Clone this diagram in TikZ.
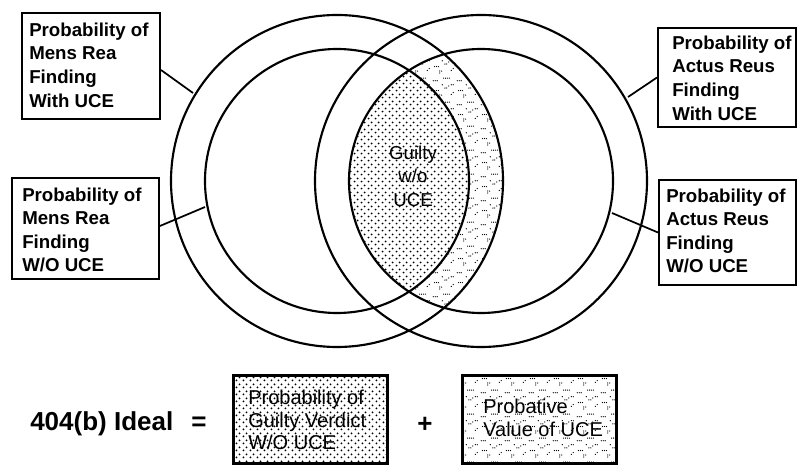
\documentclass[tikz,border=0pt]{standalone}
\usepackage{fontspec}
\setmainfont{Liberation Sans}
\usetikzlibrary{patterns.meta}

% close, even stipple for the "guilty" areas
\tikzdeclarepattern{
  name=densedots,
  type=uncolored,
  bounding box={(0pt,0pt) and (4.9pt,4.9pt)},
  tile size={(4.9pt,4.9pt)},
  code={
    \fill (1.2pt,1.2pt) circle[radius=0.8pt];
    \fill (3.65pt,3.65pt) circle[radius=0.8pt];
  }
}

% sparse, uneven stipple for the probative-value areas
\tikzdeclarepattern{
  name=lightdots,
  type=uncolored,
  bounding box={(0pt,0pt) and (18pt,18pt)},
  tile size={(18pt,18pt)},
  code={
    \foreach \px/\py in {1/1,2.5/1,4/1,9/3,10.5/3,12/3,13.5/3,6/7,6/8.5,7.5/8.5,
                         15/9,16.5/10.5,2/12,3.5/12,5/12,10/14,11.5/14,13/15.5,8/16.5,
                         15/16.5,16.5/16.5}
      {\fill (\px pt,\py pt) circle[radius=0.5pt];}
  }
}

\tikzset{
  ring/.style={line width=1.6pt},
  lbox/.style={draw, line width=1.5pt, inner sep=0pt, fill=white},
  ltext/.style={font=\fontsize{14}{17.7}\selectfont\bfseries, align=left,
                inner sep=0pt, anchor=west},
  link/.style={line width=1.3pt},
  sumbox/.style={draw, line width=2.25pt, inner sep=0pt},
  sumtext/.style={font=\fontsize{15}{17}\selectfont, align=left,
                  inner sep=0pt, anchor=west},
  bigtext/.style={font=\fontsize{19.5}{22}\selectfont\bfseries, inner sep=0pt},
}

\begin{document}
\begin{tikzpicture}[x=0.75pt,y=-0.75pt]
\useasboundingbox (0,0) rectangle (798,466);

\coordinate (L) at (337,181);
\coordinate (R) at (481,181);

% probative band: inside the right inner circle, between the left circles
\begin{scope}
  \clip (R) circle[radius=132];
  \clip (L) circle[radius=166];
  \path[pattern=lightdots, even odd rule]
    (L) circle[radius=166] (L) circle[radius=132];
\end{scope}

% lens of the two inner circles
\begin{scope}
  \clip (L) circle[radius=132];
  \path[pattern=densedots] (R) circle[radius=132];
\end{scope}

% the four circles
\draw[ring] (L) circle[radius=166] (L) circle[radius=132]
            (R) circle[radius=166] (R) circle[radius=132];

\node[font=\fontsize{14}{17.6}\selectfont, align=center, inner sep=0pt]
  (guilty) at (413,176) {Guilty\\w/o\\UCE};

% label boxes
\node[lbox, minimum width=103.5pt, minimum height=79.5pt] (mrw) at (91,66) {};
\node[ltext] (mrwt) at (29,65) {Probability of\\Mens Rea\\Finding\\With UCE};

\node[lbox, minimum width=110.25pt, minimum height=75.75pt] (mro) at (85.5,228.5) {};
\node[ltext] (mrot) at (22,230) {Probability of\\Mens Rea\\Finding\\W/O UCE};

\node[lbox, minimum width=103.5pt, minimum height=74.25pt] (arw) at (727,77.5) {};
\node[ltext] (arwt) at (672,78) {Probability of\\Actus Reus\\Finding\\With UCE};

\node[lbox, minimum width=102.75pt, minimum height=78.75pt] (aro) at (727.5,232.5) {};
\node[ltext] (arot) at (666,231) {Probability of\\Actus Reus\\Finding\\W/O UCE};

% leader lines to the circles
\coordinate (mrwc) at (193,93);
\coordinate (mroc) at (205,207);
\coordinate (arwc) at (628,97);
\coordinate (aroc) at (612,213);
\draw[link] ([yshift=-3pt]mrw.east) -- (mrwc);
\draw[link] ([yshift=1.9pt]mro.east) -- (mroc);
\draw[link] (arw.west) -- (arwc);
\draw[link] (aro.west) -- (aroc);

% the equation
\node[bigtext, anchor=base west] (ideal) at (30,430) {404(b) Ideal};
\node[bigtext, anchor=base] (eq) at (199,430) {=};

\node[sumbox, pattern=densedots, minimum width=115.5pt, minimum height=66pt]
  (gv) at (310,419) {};
\node[sumtext] (gvt) at (248,420) {Probability of\\Guilty Verdict\\W/O UCE};

\node[bigtext, anchor=base] (plus) at (425,432) {+};

\node[sumbox, pattern=lightdots, minimum width=115.5pt, minimum height=66pt]
  (pv) at (539,419) {};
\node[sumtext] (pvt) at (483,418) {Probative\\Value of UCE};
\end{tikzpicture}
\end{document}
